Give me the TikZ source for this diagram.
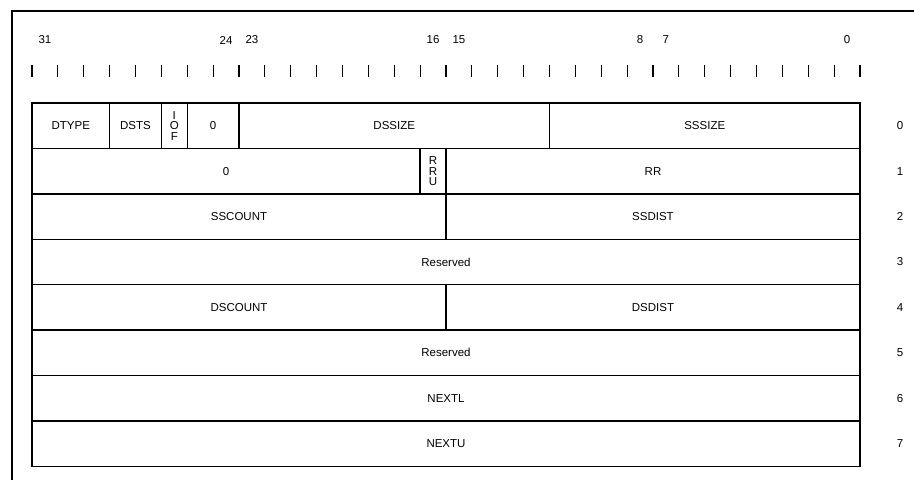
\documentclass[tikz,border=0pt]{standalone}
\usepackage{fontspec}
\setmainfont{Liberation Sans}
\usetikzlibrary{positioning,calc}

\def\bw{25.875pt}

\begin{document}
\begin{tikzpicture}[
  x=1pt, y=-1pt,
  font=\fontsize{11.5}{10.5}\selectfont,
  field/.style={draw, line width=1.4pt, inner sep=0pt, outer sep=0pt, minimum height=45.4pt, anchor=north west, align=center},
  tick/.style={line width=0.9pt},
  bigtick/.style={line width=2pt},
  frame/.style={line width=2pt},
]
\useasboundingbox (0,0) rectangle (914,480);

% Outer frame (top and left edges)
\draw[frame] (12,480) -- (12,11) -- (914,11);

% Bit numbers and ruler
\foreach \b in {31,24,23,16,15,8,7,0}
  \node (bit\b) at ({32+(31.5-\b)*25.875},40) {\b};
\foreach \k in {0,...,32}
  \draw[tick] ({32+\k*25.875},65) -- ++(0,12);
\foreach \k in {0,8,16,24,32}
  \draw[bigtick] ({32+\k*25.875},65) -- ++(0,12);

% Word 0
\node[field, minimum width=3*\bw] (dtype) at (32,103) {DTYPE};
\node[field, minimum width=2*\bw, right=0pt of dtype]   (dsts)   {DSTS};
\node[field, minimum width=\bw, right=0pt of dsts]      (iof)    {I\\O\\F};
\node[field, minimum width=2*\bw, right=0pt of iof]     (zeroa)  {0};
\node[field, minimum width=12*\bw, right=0pt of zeroa]  (dssize) {DSSIZE};
\node[field, minimum width=12*\bw, right=0pt of dssize] (sssize) {SSSIZE};

% Word 1
\node[field, minimum width=15*\bw, below=0pt of dtype.south west, anchor=north west] (zerob) {0};
\node[field, minimum width=\bw, right=0pt of zerob]     (rru) {R\\R\\U};
\node[field, minimum width=16*\bw, right=0pt of rru]    (rr)  {RR};

% Word 2
\node[field, minimum width=16*\bw, below=0pt of zerob.south west, anchor=north west] (sscount) {SSCOUNT};
\node[field, minimum width=16*\bw, right=0pt of sscount] (ssdist) {SSDIST};

% Word 3
\node[field, minimum width=32*\bw, below=0pt of sscount.south west, anchor=north west] (resa) {Reserved};

% Word 4
\node[field, minimum width=16*\bw, below=0pt of resa.south west, anchor=north west] (dscount) {DSCOUNT};
\node[field, minimum width=16*\bw, right=0pt of dscount] (dsdist) {DSDIST};

% Words 5-7
\node[field, minimum width=32*\bw, below=0pt of dscount.south west, anchor=north west] (resb)  {Reserved};
\node[field, minimum width=32*\bw, below=0pt of resb.south west, anchor=north west]    (nextl) {NEXTL};
\node[field, minimum width=32*\bw, below=0pt of nextl.south west, anchor=north west]   (nextu) {NEXTU};

% Word offsets
\node (w0) at ($(sssize.east)+(40,0)$) {0};
\node (w1) at ($(rr.east)+(40,0)$)     {1};
\node (w2) at ($(ssdist.east)+(40,0)$) {2};
\node (w3) at ($(resa.east)+(40,0)$)   {3};
\node (w4) at ($(dsdist.east)+(40,0)$) {4};
\node (w5) at ($(resb.east)+(40,0)$)   {5};
\node (w6) at ($(nextl.east)+(40,0)$)  {6};
\node (w7) at ($(nextu.east)+(40,0)$)  {7};

\end{tikzpicture}
\end{document}
